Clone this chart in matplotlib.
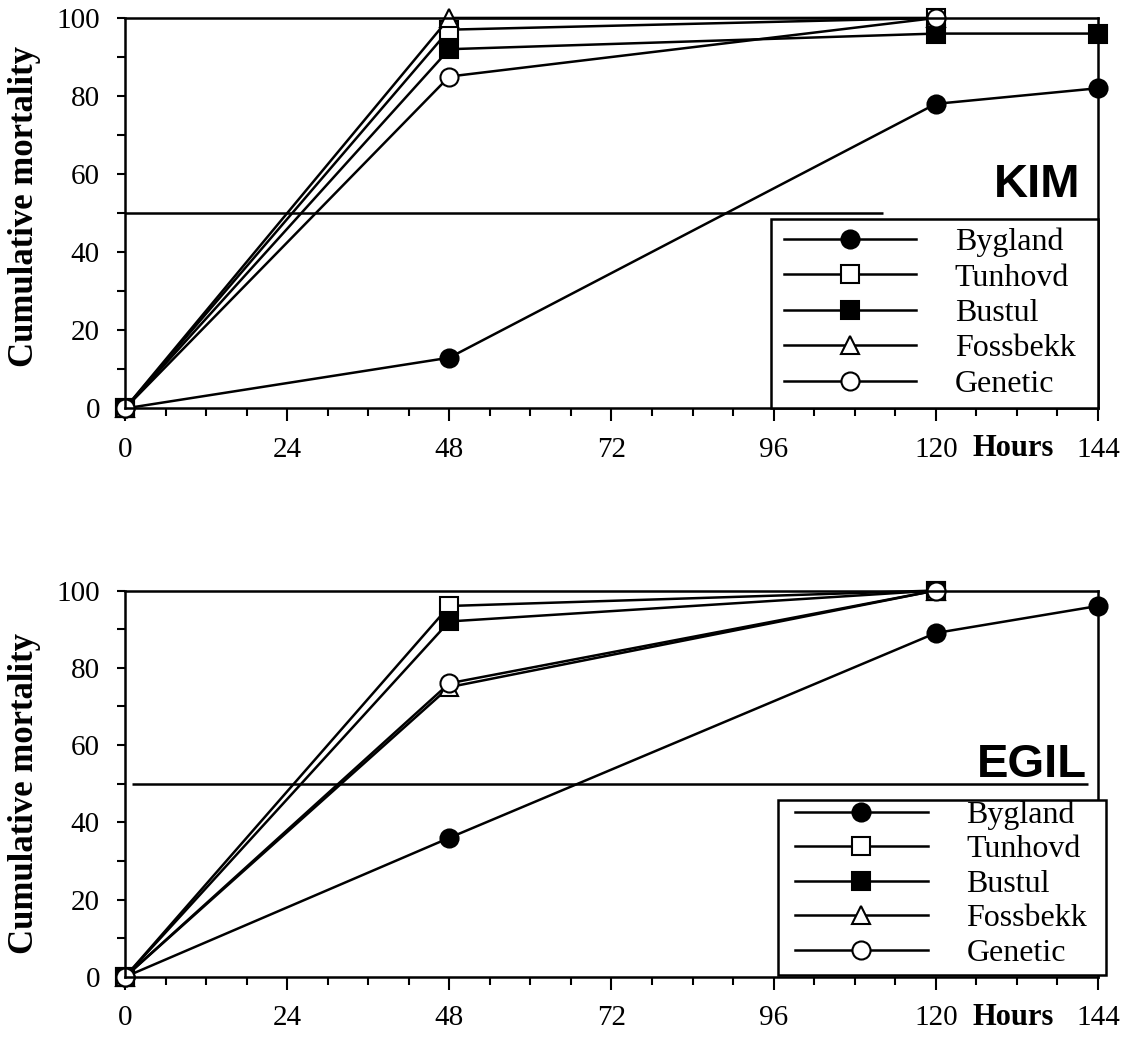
import numpy as np
import matplotlib.pyplot as plt
from matplotlib.patches import Rectangle
from matplotlib.ticker import MultipleLocator

# hours of observation
hours = [0, 48, 120, 144]
series_names = ["Bygland", "Tunhovd", "Bustul", "Fossbekk", "Genetic"]

kim_bygland = [0, 13, 78, 82]
kim_tunhovd = [0, 97, 100, np.nan]
kim_bustul = [0, 92, 96, 96]
kim_fossbekk = [0, 100, 100, np.nan]
kim_genetic = [0, 85, 100, np.nan]

egil_bygland = [0, 36, 89, 96]
egil_tunhovd = [0, 96, 100, np.nan]
egil_bustul = [0, 92, 100, np.nan]
egil_fossbekk = [0, 75, 100, np.nan]
egil_genetic = [0, 76, 100, np.nan]

x_ticks = [0, 24, 48, 72, 96, 120, 144]
y_ticks = [0, 20, 40, 60, 80, 100]
half_line = 50

plt.rcParams['font.family'] = ['Liberation Serif', 'DejaVu Serif']

markers = {
    "Bygland": dict(marker='o', mfc='black'),
    "Tunhovd": dict(marker='s', mfc='white'),
    "Bustul": dict(marker='s', mfc='black'),
    "Fossbekk": dict(marker='^', mfc='white'),
    "Genetic": dict(marker='o', mfc='white'),
}


def draw_panel(ax, data, title, half_end, title_pos, ylab_y, box, leg_anchor, leg_space):
    for name, vals in zip(series_names, data):
        ax.plot(hours, vals, color='black', lw=1.8, ms=13, mec='black',
                mew=1.5, clip_on=False, label=name, **markers[name])
    ax.hlines(half_line, half_end[0], half_end[1], color='black', lw=1.8)

    ax.set_xlim(0, 144)
    ax.set_ylim(0, 100)
    ax.set_xticks(x_ticks)
    ax.set_yticks(y_ticks)
    ax.xaxis.set_minor_locator(MultipleLocator(6))
    ax.yaxis.set_minor_locator(MultipleLocator(10))
    ax.tick_params(which='both', direction='out', width=1.5, labelsize=21)
    ax.tick_params(axis='x', which='major', length=9.4, pad=11)
    ax.tick_params(axis='x', which='minor', length=5.8)
    ax.tick_params(axis='y', which='both', length=6, pad=12)
    for sp in ax.spines.values():
        sp.set_linewidth(1.8)

    ax.text(-0.103, ylab_y, "Cumulative mortality", rotation=90, ha='center',
            va='center', fontsize=25, fontweight='bold', transform=ax.transAxes)
    ax.annotate("Hours", xy=(131.4, 0), xycoords=('data', 'axes fraction'),
                xytext=(0, -29), textcoords='offset points', ha='center',
                va='center', fontsize=22, fontweight='bold')
    ax.text(title_pos[0], title_pos[1], title, ha='right', va='baseline',
            fontsize=34, fontweight='bold', family='Liberation Sans',
            transform=ax.transAxes)

    # legend frame drawn as its own box, entries placed inside
    ax.add_patch(Rectangle(box[:2], box[2], box[3], transform=ax.transAxes,
                           facecolor='white', edgecolor='black', lw=1.8,
                           zorder=4, clip_on=False))
    leg = ax.legend(loc='upper left', bbox_to_anchor=leg_anchor,
                    borderaxespad=0, borderpad=0, fontsize=23,
                    handlelength=4.14, handletextpad=1.22,
                    labelspacing=leg_space, frameon=False)
    leg.set_zorder(5)


def main():
    fig = plt.figure(figsize=(11.3, 10.38), dpi=100)
    ax1 = fig.add_axes([0.1106, 0.6065, 0.861, 0.3762])
    ax2 = fig.add_axes([0.1106, 0.0588, 0.861, 0.3723])

    draw_panel(ax1, [kim_bygland, kim_tunhovd, kim_bustul, kim_fossbekk, kim_genetic],
               "KIM", (0, 112.2), (0.9815, 0.541), 0.517,
               (0.664, 0, 0.336, 0.485), (0.677, 0.463), 0.19)
    draw_panel(ax2, [egil_bygland, egil_tunhovd, egil_bustul, egil_fossbekk, egil_genetic],
               "EGIL", (1, 142.5), (0.989, 0.518), 0.475,
               (0.671, 0.005, 0.337, 0.454), (0.689, 0.457), 0.16)

    fig.savefig("out.png")


if __name__ == "__main__":
    main()
